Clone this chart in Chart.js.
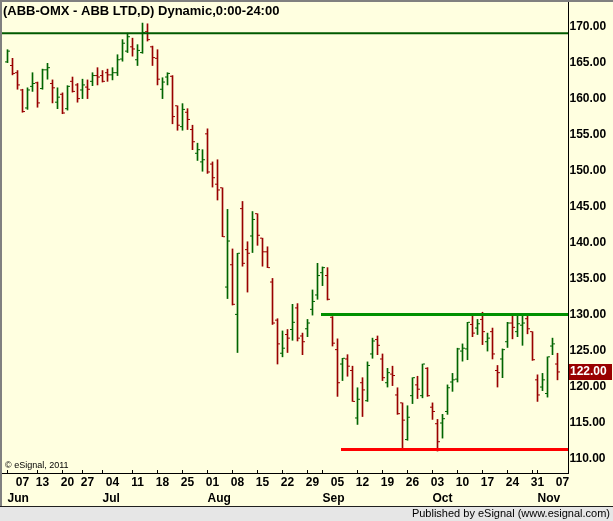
<!DOCTYPE html>
<html><head><meta charset="utf-8">
<script src="https://cdn.jsdelivr.net/npm/chart.js@4.4.0/dist/chart.umd.min.js"></script>
<style>html,body{margin:0;padding:0;background:#FFFFE0;}canvas{display:block;}</style>
</head><body>
<canvas id="c" width="613" height="521"></canvas>
<script>
const year = 2011;
const dates = [
'05-31','06-01','06-03','06-07','06-08','06-09','06-10',
'06-13','06-14','06-15','06-16','06-17',
'06-20','06-21','06-22','06-23',
'06-27','06-28','06-29','06-30','07-01',
'07-04','07-05','07-06','07-07','07-08',
'07-11','07-12','07-13','07-14','07-15',
'07-18','07-19','07-20','07-21','07-22',
'07-25','07-26','07-27','07-28','07-29',
'08-01','08-02','08-03','08-04','08-05',
'08-08','08-09','08-10','08-11','08-12',
'08-15','08-16','08-17','08-18','08-19',
'08-22','08-23','08-24','08-25','08-26',
'08-29','08-30','08-31','09-01','09-02',
'09-05','09-06','09-07','09-08','09-09',
'09-12','09-13','09-14','09-15','09-16',
'09-19','09-20','09-21','09-22','09-23',
'09-26','09-27','09-28','09-29','09-30',
'10-03','10-04','10-05','10-06','10-07',
'10-10','10-11','10-12','10-13','10-14',
'10-17','10-18','10-19','10-20','10-21',
'10-24','10-25','10-26','10-27','10-28',
'10-31','11-01','11-02','11-03','11-04'
];
const axisExtraDates = ['11-07'];
const monthNames = ['Jan','Feb','Mar','Apr','May','Jun','Jul','Aug','Sep','Oct','Nov','Dec'];

const opens = [
165.1,164.6,163.6,161.2,158.7,161.7,162.2,161.4,164.0,162.1,
159.5,160.6,158.6,162.4,161.9,161.2,161.6,162.4,163.2,163.2,
163.6,163.3,163.6,165.5,166.6,167.2,165.4,166.4,169.3,167.2,
165.6,161.3,163.0,163.1,159.0,156.1,158.1,155.7,152.4,151.2,
155.1,150.9,148.1,147.6,133.8,136.9,130.0,144.7,139.0,140.9,
144.0,140.6,138.7,134.5,129.2,124.6,127.2,127.9,130.9,127.0,
128.0,130.7,132.7,135.8,135.4,129.6,125.1,123.1,123.8,122.2,
115.6,120.5,118.0,124.5,126.5,123.8,120.5,121.7,118.8,117.7,
112.6,118.7,120.2,118.7,122.5,117.1,114.8,114.9,116.5,120.6,
121.0,124.9,125.2,128.6,128.1,129.3,126.2,127.6,122.2,123.8,
126.2,128.8,127.6,128.5,129.4,127.6,120.9,119.9,119.0,125.6,
123.1];
const highs = [
166.8,165.6,163.9,161.3,161.5,163.6,162.3,164.1,164.9,162.6,
161.5,160.8,161.8,163.0,162.1,162.7,162.6,163.6,164.3,163.9,
164.1,164.3,166.1,168.2,169.1,168.4,167.5,170.5,170.4,167.3,
166.8,162.9,163.6,163.2,159.0,159.3,158.6,156.3,153.8,152.9,
155.8,151.2,151.5,147.6,144.6,139.1,138.5,145.7,140.1,144.3,
144.0,140.6,139.4,135.0,129.4,127.7,127.9,131.4,131.5,127.4,
129.3,133.4,137.1,136.6,136.5,129.7,126.6,123.9,124.4,122.8,
119.8,121.2,123.4,126.7,127.0,124.5,122.5,122.8,119.8,117.7,
117.3,121.2,121.4,123.1,122.6,117.7,115.4,116.1,120.2,121.8,
125.3,125.9,128.9,129.8,129.3,130.3,127.4,128.1,122.9,125.2,
128.9,129.8,129.9,130.0,130.0,127.6,121.6,121.8,124.1,126.7,
124.6];
const lows = [
165.0,163.3,161.3,158.1,158.5,161.0,158.8,161.3,162.7,159.4,
158.6,157.9,158.4,160.9,159.5,160.0,160.0,161.8,161.9,162.3,
162.4,162.6,163.2,165.2,166.4,165.9,164.6,166.3,168.0,164.6,
161.9,160.0,161.9,156.5,155.6,155.6,155.7,152.9,151.4,149.9,
149.6,147.7,145.9,140.8,132.2,131.3,124.7,136.7,133.1,138.6,
139.6,136.7,136.5,128.6,123.1,124.1,124.7,126.4,126.3,124.4,
126.9,129.9,132.1,134.0,132.0,125.6,118.6,120.8,121.4,117.9,
114.7,115.8,117.9,123.9,124.4,120.8,119.9,120.1,116.1,111.1,
112.5,117.6,118.3,118.4,118.6,115.4,111.0,112.8,116.1,119.3,
120.6,123.5,123.7,126.9,127.2,125.8,124.9,123.8,119.9,121.2,
125.4,126.6,126.9,125.7,127.3,123.6,117.9,119.4,118.5,124.4,
120.9];
const closes = [
166.6,163.5,161.9,158.2,161.2,162.1,159.4,164.0,164.3,161.5,
160.2,158.0,161.7,161.0,160.0,161.9,161.3,163.2,163.0,162.4,
163.3,163.6,165.4,167.7,168.6,166.9,166.7,169.2,168.2,165.7,
162.7,162.3,163.5,157.5,156.3,158.5,157.1,154.0,152.9,151.5,
149.8,149.0,147.3,140.8,140.2,131.4,138.5,137.1,138.5,143.2,
141.0,138.7,136.5,128.8,125.9,125.3,126.7,128.9,126.7,126.2,
128.8,131.8,135.4,136.5,132.1,126.0,120.5,123.9,122.8,117.9,
118.2,119.5,122.9,126.3,125.7,121.2,121.9,121.5,116.2,115.3,
115.7,121.2,119.6,123.1,118.7,116.5,112.3,115.5,119.8,120.9,
125.2,125.3,128.9,127.4,128.7,127.6,126.7,124.5,121.9,125.1,
128.8,128.2,128.7,128.8,128.0,123.7,118.8,120.9,124.1,125.9,
122.0];
const yTicks = [110,115,120,125,130,135,140,145,150,155,160,165,170];
// horizontal drawn levels: price, start (trading-day index), color, width
const levelPrices = [169.1, 130.0, 111.2];
const levelStarts = [-0.1, 63.7, 67.7];
const levelColors = ['#005a00', '#009000', '#ff0000'];
const levelWidths = [2, 3, 3];

const FONT = '"Liberation Sans", Arial, sans-serif';
const UP = '#006400', DOWN = '#990000';
const N = dates.length;
const xMin = -0.1, xMax = 113.1;
const yMin = 107.95, yMax = 173.43;

const idx = dates.map((d, i) => i + 1);
const colors = idx.map((k, i) => closes[i] >= opens[i] ? UP : DOWN);
const barData = idx.map((k, i) => ({x: k, y: [lows[i], highs[i]]}));
const openData = idx.map((k, i) => ({x: k - 0.3, y: opens[i]}));
const closeData = idx.map((k, i) => ({x: k + 0.3, y: closes[i]}));

// axis ticks from dates
const allDates = dates.concat(axisExtraDates);
const toDate = s => { const [m, d] = s.split('-').map(Number); return new Date(year, m - 1, d); };
const weekKey = s => { const dt = toDate(s); const dow = (dt.getDay() + 6) % 7; return new Date(year, dt.getMonth(), dt.getDate() - dow).getTime(); };
const monthChange = k => toDate(allDates[k - 1]).getMonth() !== toDate(allDates[k - 2]).getMonth();
const dayTicks = [], monthTicks = [], markTicks = [];
let prevWeek = 1;
for (let k = 2; k <= allDates.length; k++) {
  const cur = allDates[k - 1], prev = allDates[k - 2];
  if (monthChange(k)) monthTicks.push({value: k - 1, label: monthNames[toDate(cur).getMonth()]});
  if (weekKey(cur) !== weekKey(prev)) {
    dayTicks.push({value: k, label: cur.split('-')[1]});
    let has = false;
    for (let j = prevWeek + 1; j <= k; j++) if (monthChange(j)) has = true;
    if (!has) markTicks.push(k - 1);
    prevWeek = k;
  }
}
monthTicks.forEach(t => markTicks.push(t.value));

const datasets = [
  {type: 'bar', data: barData, backgroundColor: colors, borderWidth: 0, barThickness: 1, order: 2},
  {type: 'scatter', data: openData, pointStyle: 'line', pointRadius: 1, pointHoverRadius: 1, pointBorderWidth: 1, pointBorderColor: colors, borderColor: colors, order: 1},
  {type: 'scatter', data: closeData, pointStyle: 'line', pointRadius: 1, pointHoverRadius: 1, pointBorderWidth: 1, pointBorderColor: colors, borderColor: colors, order: 1}
];
levelPrices.forEach((p, i) => datasets.push({
  type: 'line', data: [{x: levelStarts[i], y: p}, {x: xMax, y: p}],
  borderColor: levelColors[i], borderWidth: levelWidths[i], pointRadius: 0, order: 0, fill: false
}));

const noPad = s => { s.paddingTop = 0; s.paddingBottom = 0; s.paddingLeft = 0; s.paddingRight = 0; };

const frame = {
  id: 'frame',
  beforeDraw(chart) {
    const c = chart.ctx;
    c.save();
    c.fillStyle = '#FFFFE0'; c.fillRect(0, 0, 613, 506);
    c.fillStyle = '#808080'; c.fillRect(0, 0, 613, 2); c.fillRect(0, 0, 2, 506);
    c.fillStyle = '#202020'; c.fillRect(0, 506, 613, 1);
    c.fillStyle = '#E6E6E6'; c.fillRect(0, 507, 613, 14);
    c.restore();
  },
  afterDraw(chart) {
    const c = chart.ctx;
    c.save();
    c.fillStyle = '#000'; c.textBaseline = 'middle'; c.textAlign = 'left';
    c.font = 'bold 13px ' + FONT;
    c.fillText('(ABB-OMX - ABB LTD,D) Dynamic,0:00-24:00', 3, 11);
    c.font = '9px ' + FONT;
    c.fillText('\u00A9 eSignal, 2011', 5, 466);
    c.font = '11px ' + FONT;
    c.textAlign = 'right';
    c.fillText('Published by eSignal (www.esignal.com)', 610, 514);
    const last = closes[N - 1];
    const y = chart.scales.y.getPixelForValue(last);
    c.fillStyle = DOWN; c.fillRect(569, Math.round(y) - 8, 43, 16);
    c.fillStyle = '#fff'; c.textAlign = 'left'; c.font = 'bold 12px ' + FONT;
    c.fillText(last.toFixed(2), 570, Math.round(y));
    c.restore();
  }
};

new Chart(document.getElementById('c'), {
  type: 'bar',
  data: {datasets},
  plugins: [frame],
  options: {
    responsive: false, animation: false, events: [],
    layout: {padding: {left: 2, top: 2, right: 0, bottom: 15}},
    plugins: {legend: {display: false}, tooltip: {enabled: false}, title: {display: false}},
    scales: {
      x: {
        type: 'linear', min: xMin, max: xMax, offset: false, position: 'bottom', weight: 0,
        afterFit: s => { s.height = 0; noPad(s); },
        afterBuildTicks: s => { s.ticks = markTicks.map(v => ({value: v})); },
        ticks: {autoSkip: false, maxRotation: 0, minRotation: 0, padding: 0, font: {size: 1}, callback: () => ''},
        grid: {display: true, drawOnChartArea: false, drawTicks: true, tickLength: -3, color: '#000', offset: false},
        border: {display: true, color: '#000', width: 1}
      },
      xd: {
        type: 'linear', min: xMin, max: xMax, offset: false, position: 'bottom', weight: 1,
        afterFit: s => { s.height = 17; noPad(s); },
        afterBuildTicks: s => { s.ticks = dayTicks.map(t => ({value: t.value})); },
        ticks: {autoSkip: false, maxRotation: 0, minRotation: 0, padding: 2.5, color: '#000',
          font: {family: FONT, size: 12, weight: 'bold'}, callback: (v, i) => dayTicks[i] ? dayTicks[i].label : ''},
        grid: {display: false, drawTicks: false}, border: {display: false}
      },
      xm: {
        type: 'linear', min: xMin, max: xMax, offset: false, position: 'bottom', weight: 2,
        afterFit: s => { s.height = 16; noPad(s); },
        afterBuildTicks: s => { s.ticks = monthTicks.map(t => ({value: t.value})); },
        ticks: {autoSkip: false, maxRotation: 0, minRotation: 0, padding: 1.5, align: 'start', color: '#000',
          font: {family: FONT, size: 12, weight: 'bold'}, callback: (v, i) => monthTicks[i] ? monthTicks[i].label : ''},
        grid: {display: false, drawTicks: false}, border: {display: false}
      },
      y: {
        type: 'linear', position: 'right', min: yMin, max: yMax, beginAtZero: false,
        afterFit: s => { s.width = 45; noPad(s); },
        afterBuildTicks: s => { s.ticks = yTicks.map(v => ({value: v})); },
        ticks: {padding: 1.5, color: '#000', font: {family: FONT, size: 12, weight: 'bold'}, callback: v => v.toFixed(2)},
        grid: {display: true, drawOnChartArea: false, drawTicks: false},
        border: {display: true, color: '#000', width: 1}
      }
    }
  }
});
</script>
</body></html>
